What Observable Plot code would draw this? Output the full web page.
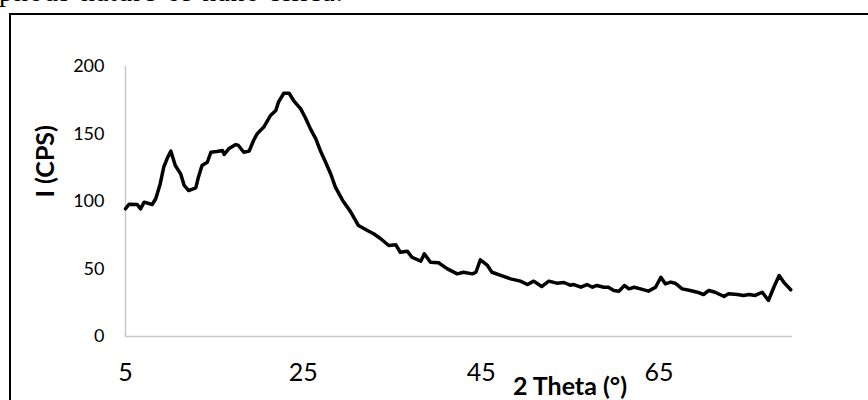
<!DOCTYPE html>
<html>
<head>
<meta charset="utf-8">
<script src="https://cdn.jsdelivr.net/npm/d3@7"></script>
<script src="https://cdn.jsdelivr.net/npm/@observablehq/plot@0.6"></script>
<style>
  html, body { margin: 0; padding: 0; background: #fff; }
  #wrap { position: relative; width: 868px; height: 400px; overflow: hidden; background: #fff; }
  #wrap svg { position: absolute; left: 0; top: 0; }
  #frame { position: absolute; left: 9px; top: 13px; width: 900px; height: 420px;
           border-top: 2.5px solid #000; border-left: 2.5px solid #000; box-sizing: border-box; }
  #cut { position: absolute; left: -1px; top: -23px; font-family: "Liberation Serif", "Times New Roman", serif;
         font-size: 28px; line-height: 29px; letter-spacing: 1px; word-spacing: 2px; white-space: nowrap; color: #000; }
</style>
</head>
<body>
<div id="wrap">
  <div id="frame"></div>
  <div id="cut">phous nature of nano silica.</div>
</div>
<script>
const theta = [5.0,5.4,6.3,6.7,7.1,8.0,8.4,8.9,9.3,9.75,10.1,10.6,11.2,11.6,12.1,12.9,13.2,13.6,14.2,14.6,
  15.3,15.9,16.1,16.6,17.4,17.7,18.3,18.9,19.4,19.8,20.6,21.3,21.9,22.2,22.8,23.4,23.9,24.7,25.2,25.8,
  26.4,26.9,27.5,28.1,28.6,29.4,30.3,31.2,32.2,32.9,33.7,34.6,35.4,35.9,36.7,37.2,38.2,38.6,39.3,40.2,
  41.2,42.3,43.0,44.0,44.4,44.9,45.7,46.2,47.2,48.3,49.4,50.2,50.9,51.8,52.6,53.5,54.3,55.0,55.4,56.2,
  56.9,57.5,58.0,58.8,59.3,59.9,60.5,61.1,61.6,62.2,62.9,63.8,64.6,65.2,65.7,66.3,66.8,67.6,68.5,69.3,
  70.0,70.6,71.3,72.3,72.8,73.8,74.5,75.1,75.8,76.6,77.3,77.9,78.5,79.0,79.8];
const intensity = [94.6,98,97.8,94.6,99.5,97.8,102,113,125.4,132.8,137.3,126.7,120.5,111.9,108.1,110.1,118,126.7,129.1,136.5,
  137,137.8,134.8,139,142.2,141.5,136.5,137.3,145.2,150.1,155.6,163.7,167.4,173.6,180.2,180.2,174.8,168.6,162.4,153.8,
  146.4,137.8,129.1,120,110.6,101,92.5,82.2,78.5,76.1,72.4,67.4,67.9,62.4,63.2,58.7,55.8,61.2,55,54.6,
  50.1,46.4,47.6,46.4,47.6,56.8,52.6,47.6,45.2,42.7,41,38.5,41,37,41,39.5,40,38,38.5,36.5,
  38.5,36.5,37.8,36.5,36.5,34.1,33.6,37.8,35.3,36.5,35.3,33.6,36.5,43.9,39,40.3,39.5,35.3,34.1,32.8,
  31.1,34.1,32.8,29.6,31.6,31.1,30.4,31.1,30.4,32.8,26.7,36.5,45.2,40.3,34.6];
const xTicks = [5, 25, 45, 65];
const yTicks = [0, 50, 100, 150, 200];
const xDomain = [5, 80];
const yDomain = [0, 200];
const xLabel = "2 Theta (°)";
const yLabel = "I (CPS)";

const data = theta.map((t, i) => ({theta: t, intensity: intensity[i]}));

const chart = Plot.plot({
  width: 868,
  height: 400,
  marginLeft: 125,
  marginRight: 76,
  marginTop: 66,
  marginBottom: 64,
  style: {fontFamily: "Lato, sans-serif", background: "transparent", color: "#000"},
  x: {domain: xDomain, ticks: xTicks},
  y: {domain: yDomain, ticks: yTicks},
  marks: [
    Plot.axisY({ticks: yTicks, tickSize: 0, tickPadding: 21, fontSize: 18, label: null}),
    Plot.axisX({ticks: xTicks, tickSize: 0, tickPadding: 27, fontSize: 25, label: null}),
    Plot.ruleX([xDomain[0]], {y1: yDomain[0], y2: yDomain[1], stroke: "#c8c8c8", strokeWidth: 1.5}),
    Plot.ruleY([yDomain[0]], {x1: xDomain[0], x2: xDomain[1], stroke: "#c8c8c8", strokeWidth: 1.5}),
    Plot.line(data, {x: "theta", y: "intensity", stroke: "#000", strokeWidth: 3.5, strokeLinejoin: "round", strokeLinecap: "round"}),
    Plot.text([yLabel], {text: d => d, frameAnchor: "left", rotate: -90, dx: -80, dy: -4, fontSize: 25, fontWeight: "bold"}),
    Plot.text([xLabel], {text: d => d, frameAnchor: "bottom", dx: 111, dy: 50, fontSize: 25, fontWeight: "bold", lineAnchor: "middle"})
  ]
});
document.getElementById("wrap").prepend(chart);
</script>
</body>
</html>
